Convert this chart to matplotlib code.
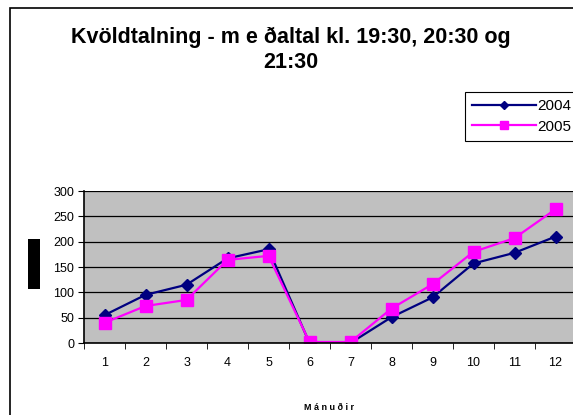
import matplotlib
matplotlib.use("Agg")
import matplotlib.pyplot as plt
from matplotlib.patches import Rectangle

months = list(range(1, 13))
tick_labels = [str(m) for m in months]
y2004 = [55, 95, 115, 167, 185, 0, 0, 51, 90, 157, 178, 210]
y2005 = [40, 73, 85, 164, 172, 2, 2, 68, 116, 180, 207, 264]

plt.rcParams['font.family'] = ['Liberation Sans', 'DejaVu Sans']

W, H = 573, 415
fig = plt.figure(figsize=(W / 100, H / 100), dpi=100)

# outer chart frame (runs off the right and bottom edges)
fig.patches.append(Rectangle((10 / W, -0.05), 1.0, 1 - 8 / H + 0.05,
                             transform=fig.transFigure, fill=False,
                             edgecolor='black', linewidth=1.2))

ax = fig.add_axes([84 / W, 1 - 343 / H, (576 - 84) / W, (343 - 191) / H])
ax.set_facecolor('#c0c0c0')
ax.plot(months, y2004, color='#000080', marker='D', markersize=6, linewidth=1.6, label='2004')
ax.plot(months, y2005, color='#ff00ff', marker='s', markersize=8, linewidth=1.6, label='2005')

ax.set_xlim(0.5, 12.5)
ax.set_ylim(0, 300)
ax.set_yticks(range(0, 301, 50))
ax.yaxis.grid(True, color='black', linewidth=0.9)
ax.set_axisbelow(True)
ax.set_xticks(months)
ax.set_xticklabels(tick_labels)
ax.set_xticks([m + 0.5 for m in months[:-1]] + [0.5], minor=True)
ax.tick_params(axis='x', which='major', length=0, pad=10, labelsize=9)
ax.tick_params(axis='x', which='minor', length=4, direction='out')
ax.tick_params(axis='y', length=4, labelsize=9, pad=3)
for s in ['top', 'right']:
    ax.spines[s].set_visible(False)
ax.spines['left'].set_linewidth(1.2)
ax.spines['bottom'].set_linewidth(1.2)

fig.text(291 / W, 1 - 37 / H, 'Kvöldtalning - m e ðaltal kl. 19:30, 20:30 og',
         ha='center', va='center', fontsize=15.5, fontweight='bold')
fig.text(291 / W, 1 - 62 / H, '21:30', ha='center', va='center',
         fontsize=15.5, fontweight='bold')

fig.text(329 / W, 1 - 407 / H, 'M á n u ð i r', ha='center', va='center',
         fontsize=6.5, fontweight='bold')

# y axis title shows as a black block in the original
fig.patches.append(Rectangle((28 / W, 1 - 289 / H), 12 / W, 50 / H,
                             transform=fig.transFigure, facecolor='black',
                             edgecolor='none'))

leg = ax.legend(loc='upper left', bbox_to_anchor=(465 / W, 1 - 145 / H, 110 / W, 53 / H),
                bbox_transform=fig.transFigure, mode='expand', fancybox=False,
                framealpha=1, edgecolor='black', fontsize=11, handlelength=4.2,
                handletextpad=0.1, borderaxespad=0, borderpad=0.45,
                labelspacing=0.45, markerscale=0.7)
leg.get_frame().set_linewidth(0.8)

fig.savefig('out.png', dpi=100)
